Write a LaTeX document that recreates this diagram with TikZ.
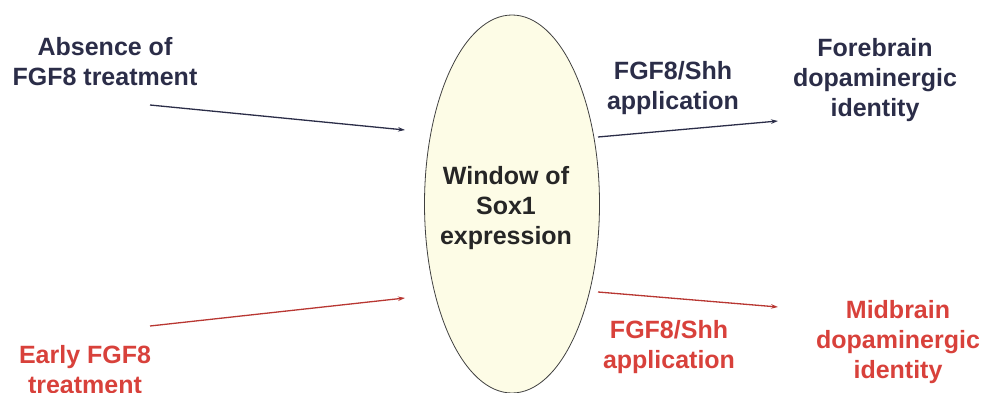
\documentclass[tikz,border=0pt]{standalone}
\usepackage{fontspec}
\setmainfont{Liberation Sans}
\usetikzlibrary{arrows.meta,shapes.geometric}
\definecolor{navy}{HTML}{2B2D48}
\definecolor{redt}{HTML}{D8413B}
\definecolor{ellfill}{HTML}{FDFCE6}
\tikzset{
  lbl/.style={align=center,font=\bfseries\fontsize{25}{30}\selectfont,inner sep=0pt},
  arr/.style={line width=1.3pt,-{Stealth[length=7pt,width=4.5pt]}},
}
\begin{document}
\begin{tikzpicture}[x=1pt,y=-1pt]
\useasboundingbox (0,0) rectangle (990,393);
\node[ellipse,draw=black!75,line width=0.8pt,fill=ellfill,minimum width=175pt,minimum height=378pt,inner sep=0pt] (win) at (512,204) {};
\node[lbl,text=black!85] (wtxt) at (506,208) {Window of\\Sox1\\expression};
\node[lbl,text=navy] (abs) at (105,62) {Absence of\\FGF8 treatment};
\node[lbl,text=redt] (early) at (85,370) {Early FGF8\\treatment};
\node[lbl,text=navy] (app1) at (673,88) {FGF8/Shh\\application};
\node[lbl,text=redt] (app2) at (669,347) {FGF8/Shh\\application};
\node[lbl,text=navy] (fore) at (875,80) {Forebrain\\dopaminergic\\identity};
\node[lbl,text=redt] (mid) at (898,342) {Midbrain\\dopaminergic\\identity};
\coordinate (a1s) at (150,105); \coordinate (a1e) at (405,130);
\coordinate (a2s) at (598,137); \coordinate (a2e) at (778,121);
\coordinate (a3s) at (150,326); \coordinate (a3e) at (405,298);
\coordinate (a4s) at (598,292); \coordinate (a4e) at (778,307);
\draw[arr,navy] (a1s) -- (a1e);
\draw[arr,navy] (a2s) -- (a2e);
\draw[arr,redt!85!black] (a3s) -- (a3e);
\draw[arr,redt!85!black] (a4s) -- (a4e);
\end{tikzpicture}
\end{document}
